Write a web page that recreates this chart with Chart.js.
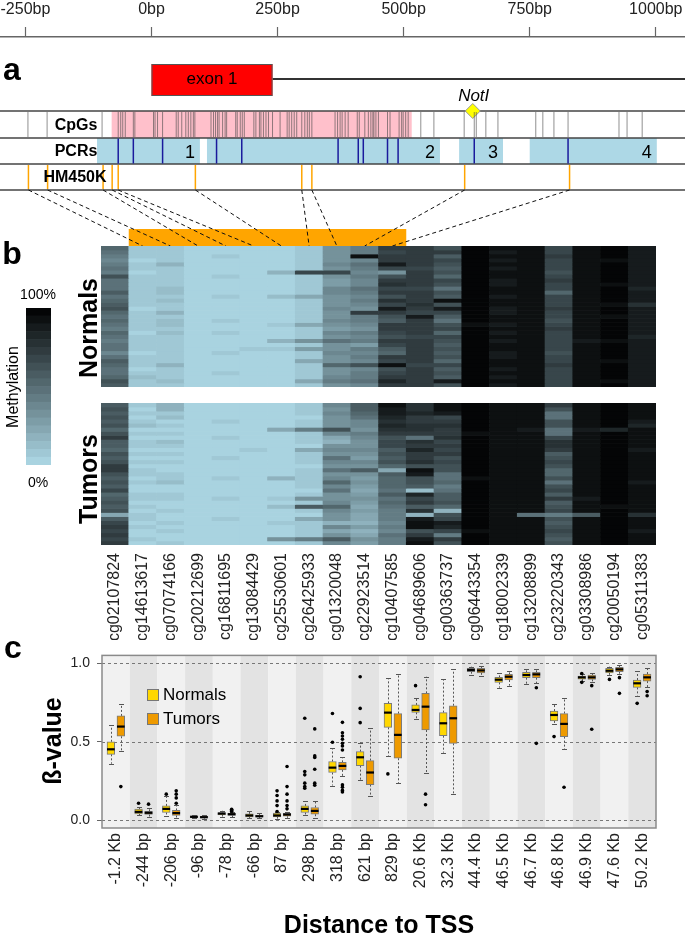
<!DOCTYPE html>
<html><head><meta charset="utf-8">
<script src="https://cdn.jsdelivr.net/npm/chart.js@4.4.1/dist/chart.umd.min.js"></script>
<style>
html,body{margin:0;padding:0;background:#fff}
body{position:relative;width:685px;height:934px;overflow:hidden;font-family:"Liberation Sans",Arial,Helvetica,sans-serif}
canvas{position:absolute;display:block}
.t{position:absolute;white-space:nowrap;line-height:1;color:#000}
.sw{position:absolute;width:10px;height:10px;border:1px solid #777}
</style></head>
<body>
<canvas id="cTop" width="685" height="246" style="left:0;top:0"></canvas>
<canvas id="cHeatN" width="555" height="141" style="left:101px;top:246px"></canvas>
<canvas id="cHeatT" width="555" height="237" style="left:101px;top:403px"></canvas>
<canvas id="cBar" width="25" height="157" style="left:26px;top:308px"></canvas>
<canvas id="cBox" width="685" height="294" style="left:0;top:640px"></canvas>
<script>
/* ================= DATA ================= */
// panel a – genomic track, positions in bp relative to the TSS
const bpTicks = [-250, 0, 250, 500, 750, 1000];
const exonRange = [0, 240];
const cpgIsland = [-79, 516];
const cpgSites = [-245,-207,-98,-66,-61,-57,-52,-36,-33,4,7,12,22,49,53,60,68,73,78,83,86,118,123,127,131,134,141,146,149,167,170,176,180,184,203,207,214,217,222,227,232,240,255,269,273,278,283,288,298,304,309,313,318,364,369,374,378,384,390,408,412,423,430,435,439,441,445,450,468,473,491,496,499,504,509,534,560,620,640,644,663,687,762,776,798,826,927,943,973];
const pcrAmplicons = [[-108, 96], [110, 572], [610, 697], [750, 1002]];
const pcrNames = ['1', '2', '3', '4'];
const pcrCpGs = [-66,-36,22,129,179,370,410,420,468,489,640,826];
const hm450kBp = [-244,-206,-96,-78,-66,87,298,318,621,829];
const hm450kIds = ['cg14613617','cg07074166','cg20212699','cg16811695','cg13084429','cg25530601','cg26425933','cg01320048','cg22923514','cg10407585'];
const notIBp = 637;

// panel b – probes and methylation (%) per sample row
const probeIds = ['cg02107824','cg14613617','cg07074166','cg20212699','cg16811695','cg13084429','cg25530601','cg26425933','cg01320048','cg22923514','cg10407585','cg04689606','cg00363737','cg06443354','cg18002339','cg13208899','cg23220343','cg03308986','cg20050194','cg05311383'];
const colorSteps = [0,5,10,15,20,25,30,35,40,45,50,55,60,65,70,75,80,85,90,95];

const nrm01 = [50,48,40,38,41,45,44,61,48,46,45,58,47,50,55,60,52,46,52,48,40,50,47,44,49,46,37,48,59,50,45,47,50,61,56];
const nrm02 = [6,5,7,4,5,6,4,5,7,6,5,8,6,5,7,4,6,5,5,7,6,4,5,8,6,5,4,7,6,5,4,6,11,5,5];
const nrm03 = [7,9,6,5,15,6,7,5,8,6,12,14,7,11,6,5,16,7,10,12,6,10,7,5,8,6,5,7,6,15,7,5,6,13,7];
const nrm04 = [2,2,2,3,2,2,2,2,3,2,2,2,2,2,2,3,2,2,2,2,2,2,2,2,2,2,2,2,2,2,3,2,2,2,2];
const nrm05 = [4,4,5,4,3,4,4,5,4,4,3,4,5,4,4,3,4,4,5,4,4,6,4,3,4,4,5,4,4,3,4,5,4,4,4];
const nrm06 = [3,3,2,3,3,4,3,2,3,3,3,4,3,2,3,3,3,2,4,3,3,3,2,3,3,6,3,3,2,3,3,4,3,3,3];
const nrm07 = [3,3,2,4,3,3,19,3,2,3,4,3,12,3,2,3,3,4,3,6,3,2,3,16,3,9,3,2,3,4,3,3,2,3,3];
const nrm08 = [7,6,8,5,9,7,65,6,8,5,7,9,24,6,8,7,5,9,7,20,6,8,5,31,7,29,6,9,21,5,7,8,6,20,7];
const nrm09 = [30,32,34,31,36,33,68,30,25,28,35,38,32,30,34,37,33,31,36,30,29,35,34,45,32,30,36,33,31,50,34,30,37,42,33];
const nrm10 = [40,42,92,38,49,44,36,40,35,38,45,41,37,43,39,34,71,40,42,36,30,44,38,41,26,40,35,43,39,62,37,42,40,45,38];
const nrm11 = [70,66,72,74,85,68,30,62,73,78,65,70,60,75,68,85,72,64,59,70,74,67,63,72,69,58,50,71,66,90,61,68,73,80,70];
const nrm12 = [72,70,71,73,70,69,72,74,70,71,68,72,70,73,75,71,69,86,70,72,74,71,69,70,73,72,70,71,74,68,70,72,71,70,73];
const nrm13 = [62,70,58,66,60,55,64,52,68,60,45,63,58,90,62,85,66,57,45,61,65,54,68,60,59,64,56,63,50,66,58,62,55,88,60];
const nrm14 = [96,95,96,97,96,95,96,96,97,95,96,96,95,96,97,96,95,96,96,94,96,97,95,96,96,95,96,97,96,95,96,96,95,96,96];
const nrm15 = [90,89,91,88,90,89,90,91,89,88,90,90,89,91,90,88,89,90,91,89,90,88,90,89,91,90,89,88,90,91,89,90,89,90,88];
const nrm16 = [93,92,94,93,92,93,91,94,93,92,93,94,92,93,91,93,92,94,93,92,93,92,94,93,92,91,93,92,93,94,92,93,92,93,93];
const nrm17 = [68,66,70,67,65,69,64,67,70,66,68,53,67,65,69,71,66,68,64,67,70,65,68,66,69,67,63,68,66,70,67,65,68,66,69];
const nrm18 = [91,92,90,91,93,91,90,92,91,90,91,92,91,90,91,92,91,90,91,91,92,90,91,88,91,92,90,91,91,94,90,91,92,91,90];
const nrm19 = [95,96,95,94,96,95,95,96,95,94,95,96,95,95,90,96,95,94,95,96,95,95,96,94,95,95,96,95,94,95,96,95,95,94,95];
const nrm20 = [87,88,86,89,85,87,88,86,89,87,84,88,87,89,75,86,88,85,87,89,86,88,84,87,88,86,85,89,87,88,86,87,85,88,87];

const tum01 = [58,62,55,60,57,63,52,60,70,56,59,54,61,58,64,72,70,60,55,62,57,68,53,59,62,56,60,21,58,68,72,65,70,66,73];
const tum02 = [5,4,6,4,5,10,4,5,4,6,5,4,5,3,5,4,6,5,4,5,3,4,6,5,4,5,4,5,6,4,5,4,3,5,4];
const tum03 = [19,17,5,11,4,6,3,5,4,14,5,3,6,4,5,3,4,6,5,10,4,3,5,6,4,3,5,4,3,6,4,5,3,4,5];
const tum04 = [2,2,2,2,2,2,2,2,2,2,2,3,2,2,2,2,2,2,2,2,2,2,2,2,2,2,2,2,2,2,2,2,2,2,2];
const tum05 = [4,3,4,4,6,4,3,4,7,4,3,4,4,5,4,3,4,4,6,4,3,4,4,7,4,3,4,4,5,4,3,4,4,4,4];
const tum06 = [2,3,2,3,2,2,3,2,2,3,2,5,2,3,2,2,3,2,2,3,2,2,3,2,2,3,2,2,2,3,2,2,3,2,2];
const tum07 = [3,4,3,4,3,4,21,3,4,3,4,3,4,3,4,3,4,3,17,4,3,4,3,9,4,12,3,4,3,7,4,3,4,34,3];
const tum08 = [6,5,7,4,8,6,41,5,7,6,4,22,6,5,8,4,6,7,5,6,8,4,6,33,5,58,7,4,24,6,5,7,6,40,5];
const tum09 = [35,34,36,33,32,34,62,35,21,19,33,36,34,45,35,33,49,34,35,54,36,47,34,33,35,52,36,34,33,18,35,22,34,56,35];
const tum10 = [55,58,50,45,38,35,32,40,36,33,30,38,34,28,36,31,59,30,26,34,29,22,27,31,25,20,28,24,22,18,26,15,23,30,27];
const tum11 = [93,88,85,80,78,82,75,70,60,65,68,58,62,55,60,52,24,56,54,50,52,48,55,45,50,47,42,40,44,39,42,38,45,40,43];
const tum12 = [78,76,80,74,72,79,75,73,45,78,70,80,74,72,76,62,90,86,60,64,58,10,80,66,70,58,78,17,88,90,91,62,74,89,90];
const tum13 = [92,90,85,68,72,75,70,73,78,66,72,65,70,64,68,62,60,48,45,50,44,46,55,58,62,52,17,60,66,85,80,65,40,70,62];
const tum14 = [96,95,96,95,96,96,95,94,96,95,96,95,96,96,95,96,95,96,94,96,95,96,95,96,96,95,96,95,96,95,96,94,96,95,96];
const tum15 = [91,92,90,93,91,92,91,90,92,91,93,91,92,90,91,92,91,93,92,91,90,92,91,92,91,90,93,91,92,91,92,90,91,92,91];
const tum16 = [93,92,94,93,92,93,85,94,93,92,93,94,92,93,91,93,92,94,93,92,93,92,94,93,92,91,93,49,93,94,92,93,92,93,93];
const tum17 = [70,64,48,46,62,60,45,47,66,75,76,72,58,62,65,60,52,50,63,45,60,66,58,70,56,61,68,40,64,57,62,66,60,59,64];
const tum18 = [91,92,90,91,93,91,86,92,91,90,91,92,91,90,91,92,91,90,91,91,92,90,91,89,91,92,90,58,91,94,90,91,92,91,90];
const tum19 = [96,97,96,95,97,96,81,97,96,95,96,97,96,96,95,97,96,95,96,97,96,96,97,95,96,91,97,96,95,96,97,96,96,95,96];
const tum20 = [91,92,90,93,89,82,91,90,92,93,91,89,92,90,91,93,90,92,91,89,92,90,91,93,90,91,92,79,90,92,91,89,93,90,91];

// panel c – beta-value box statistics per probe
const tssLabels = ['-1.2 Kb','-244 bp','-206 bp','-96 bp','-78 bp','-66 bp','87 bp','298 bp','318 bp','621 bp','829 bp','20.6 Kb','32.3 Kb','44.4 Kb','46.5 Kb','46.7 Kb','46.8 Kb','46.9 Kb','47.6 Kb','50.2 Kb'];
const betaTicks = [0, 0.5, 1];
const nQ1  = [.42,.04,.049,.017,.034,.021,.021,.049,.304,.348,.592,.688,.539,.947,.879,.909,.633,.90,.94,.847];
const nMed = [.452,.053,.072,.021,.042,.03,.03,.072,.335,.401,.686,.703,.618,.958,.896,.926,.671,.911,.953,.873];
const nQ3  = [.50,.07,.091,.028,.049,.04,.045,.091,.374,.437,.745,.735,.686,.968,.911,.943,.696,.919,.968,.894];
const nLo  = [.36,.03,.028,.012,.023,.012,.01,.03,.221,.257,.41,.643,.431,.928,.845,.868,.611,.885,.925,.794];
const nHi  = [.607,.087,.151,.032,.06,.06,.05,.121,.459,.495,.904,.777,.898,.979,.936,.962,.739,.93,.979,.951];
const nOut = [[],[.108],[.166],[],[],[],[.187,.157,.123,.093,.055],[.65,.31,.289,.236,.214,.204],[.68,.497],[.915,.713,.622],[.295],[.858],[],[],[],[],[.533],[.936,.879],[.898],[.745]];
const tQ1  = [.535,.036,.03,.015,.03,.02,.025,.038,.321,.227,.395,.575,.49,.94,.894,.909,.533,.898,.947,.887];
const tMed = [.597,.047,.045,.019,.038,.025,.036,.059,.346,.304,.544,.724,.65,.955,.915,.93,.614,.911,.962,.911];
const tQ3  = [.665,.057,.062,.024,.045,.031,.043,.081,.369,.38,.68,.809,.73,.968,.93,.943,.68,.926,.975,.932];
const tLo  = [.444,.023,.013,.01,.02,.012,.015,.013,.282,.151,.236,.304,.168,.92,.858,.872,.452,.88,.93,.847];
const tHi  = [.739,.076,.098,.03,.05,.045,.05,.121,.40,.586,.93,.915,.962,.985,.953,.962,.777,.94,.99,.972];
const tOut = [[.214],[.102],[.187,.166,.142,.108],[],[.07,.065,.06,.055],[],[.342,.214,.166,.123,.093,.072],[.582,.41,.40,.325,.236,.223],[.624,.558,.537,.516,.49,.473,.448,.225,.21,.19,.18],[],[],[.166,.098],[],[],[],[.845,.49],[.21],[.858,.58],[.909,.809],[.82,.794]];

/* ================= STYLE / SETUP ================= */
const FONT = '"Liberation Sans", Arial, Helvetica, sans-serif';
Chart.defaults.font.family = FONT;
Chart.defaults.color = '#222';
Chart.defaults.animation = false;
Chart.defaults.events = [];
Chart.defaults.responsive = false;
Chart.defaults.maintainAspectRatio = false;
Chart.defaults.plugins.legend.display = false;
Chart.defaults.plugins.tooltip.enabled = false;

const GOLD = '#ffd700', ORANGE = '#ee9a00';
const LIGHTBLUE = [173, 216, 230];
function methColor(pct) {
  const bin = Math.min(19, Math.max(0, Math.floor(pct / 5)));
  const t = (bin + 0.5) / 20;
  return 'rgb(' + LIGHTBLUE.map(c => Math.round(c * (1 - t))).join(',') + ')';
}
function addText(txt, cx, cy, o) {
  o = Object.assign({size: 14, weight: 'normal', style: 'normal', rot: 0, align: 'center', color: '#000'}, o || {});
  const d = document.createElement('div');
  d.className = 't'; d.textContent = txt;
  d.style.font = o.style + ' ' + o.weight + ' ' + o.size + 'px ' + FONT;
  d.style.color = o.color;
  d.style.left = cx + 'px'; d.style.top = cy + 'px';
  const tx = o.align === 'center' ? '-50%' : (o.align === 'right' ? '-100%' : '0');
  d.style.transform = 'translate(' + tx + ',-50%)' + (o.rot ? ' rotate(' + o.rot + 'deg)' : '');
  document.body.appendChild(d);
}
const noSidePad = s => { s.paddingLeft = 0; s.paddingRight = 0; };

/* ================= HEATMAPS ================= */
const nrmCols = [nrm01,nrm02,nrm03,nrm04,nrm05,nrm06,nrm07,nrm08,nrm09,nrm10,nrm11,nrm12,nrm13,nrm14,nrm15,nrm16,nrm17,nrm18,nrm19,nrm20];
const tumCols = [tum01,tum02,tum03,tum04,tum05,tum06,tum07,tum08,tum09,tum10,tum11,tum12,tum13,tum14,tum15,tum16,tum17,tum18,tum19,tum20];
function heatDatasets(cols) {
  const ds = [];
  for (let r = 0; r < cols[0].length; r++) {
    ds.push({
      label: 'sample ' + (r + 1),
      data: cols.map(() => 1),              // one unit cell per probe, coloured by its value
      backgroundColor: cols.map(col => methColor(col[r])),
      borderWidth: 0, categoryPercentage: 1, barPercentage: 1
    });
  }
  return ds;
}
function heatScales(showX, nRows) {
  const x = { stacked: true, display: showX, offset: true,
         grid: {display: false, drawTicks: false}, border: {display: false},
         ticks: {autoSkip: false, minRotation: 90, maxRotation: 90, padding: 8, font: {size: 16}, color: '#222'} };
  if (showX) x.afterFit = s => { s.height = 95; noSidePad(s); };
  return { x, y: { stacked: true, display: false, reverse: true, min: 0, max: nRows } };
}
const heatN = new Chart(document.getElementById('cHeatN'), {
  type: 'bar',
  data: {labels: probeIds, datasets: heatDatasets(nrmCols)},
  options: {layout: {padding: 0, autoPadding: false}, scales: heatScales(false, nrm01.length)}
});
const heatT = new Chart(document.getElementById('cHeatT'), {
  type: 'bar',
  data: {labels: probeIds, datasets: heatDatasets(tumCols)},
  options: {layout: {padding: 0, autoPadding: false}, scales: heatScales(true, tum01.length)}
});

/* colour key */
new Chart(document.getElementById('cBar'), {
  type: 'bar',
  data: {labels: [''], datasets: colorSteps.map(s => ({
    data: [[s, s + 5]], backgroundColor: methColor(s + 2.5), borderWidth: 0,
    categoryPercentage: 1, barPercentage: 1, grouped: false }))},
  options: {layout: {padding: 0, autoPadding: false}, scales: {x: {display: false}, y: {display: false, min: 0, max: 100}}}
});

/* ================= TOP TRACKS ================= */
// vertical layout of the tracks (px below the axis line)
const TRK = {exonTop: 27, exonMid: 42, exonBot: 59, notILabel: 59, cpgTop: 74, cpgMid: 87.5, pcrTop: 101, pcrMid: 114, hmTop: 127, hmMid: 140, hmBot: 153, barTop: 192, end: 209};
const topCanvas = document.getElementById('cTop');
const heatCanvas = document.getElementById('cHeatN');

const trackPlugin = {
  id: 'tracks',
  beforeDatasetsDraw(chart) {
    const {ctx, chartArea: ca, scales: {x, y}} = chart;
    ctx.save();
    const e0 = x.getPixelForValue(exonRange[0]), e1 = x.getPixelForValue(exonRange[1]);
    ctx.strokeStyle = '#333'; ctx.lineWidth = 2;
    ctx.beginPath(); ctx.moveTo(e1, y.getPixelForValue(TRK.exonMid)); ctx.lineTo(ca.right, y.getPixelForValue(TRK.exonMid)); ctx.stroke();
    const et = y.getPixelForValue(TRK.exonTop), eb = y.getPixelForValue(TRK.exonBot);
    ctx.fillStyle = '#ff0000'; ctx.fillRect(e0, et, e1 - e0, eb - et);
    ctx.strokeStyle = '#555'; ctx.lineWidth = 1; ctx.strokeRect(e0 + 0.5, et + 0.5, e1 - e0 - 1, eb - et - 1);
    const ct = y.getPixelForValue(TRK.cpgTop), pt = y.getPixelForValue(TRK.pcrTop);
    const ht = y.getPixelForValue(TRK.hmTop), hb = y.getPixelForValue(TRK.hmBot);
    ctx.fillStyle = '#ffc0cb';
    ctx.fillRect(x.getPixelForValue(cpgIsland[0]), ct, x.getPixelForValue(cpgIsland[1]) - x.getPixelForValue(cpgIsland[0]), pt - ct);
    ctx.fillStyle = '#add8e6';
    pcrAmplicons.forEach(a => {
      const a0 = x.getPixelForValue(a[0]), a1 = x.getPixelForValue(a[1]);
      ctx.fillRect(a0, pt, a1 - a0, ht - pt);
    });
    ctx.strokeStyle = '#444'; ctx.lineWidth = 1.5;
    [ct, pt, ht, hb].forEach(py => { ctx.beginPath(); ctx.moveTo(ca.left, py); ctx.lineTo(ca.right, py); ctx.stroke(); });
    const hx = heatN.scales.x, off = heatCanvas.offsetLeft - topCanvas.offsetLeft;
    const colW = hx.width / probeIds.length;
    const cols = hm450kIds.map(id => probeIds.indexOf(id));
    const bx0 = hx.getPixelForValue(Math.min(...cols)) + off - colW / 2;
    const bx1 = hx.getPixelForValue(Math.max(...cols)) + off + colW / 2;
    const bt = y.getPixelForValue(TRK.barTop), be = y.getPixelForValue(TRK.end);
    ctx.fillStyle = '#ffa500'; ctx.fillRect(bx0, bt, bx1 - bx0, be - bt);
    ctx.strokeStyle = '#111'; ctx.lineWidth = 1; ctx.setLineDash([4, 3]);
    hm450kBp.forEach((b, i) => {
      ctx.beginPath();
      ctx.moveTo(x.getPixelForValue(b), hb);
      ctx.lineTo(hx.getPixelForValue(cols[i]) + off, be);
      ctx.stroke();
    });
    ctx.restore();
  }
};

const topChart = new Chart(topCanvas, {
  type: 'scatter',
  data: {datasets: [
    {label: 'CpG sites', data: cpgSites.map(b => ({x: b, y: TRK.cpgMid})), pointStyle: 'line', pointRotation: 90, pointRadius: 12.5, pointBorderColor: 'rgba(70,70,70,0.6)', pointBorderWidth: 1},
    {label: 'PCR CpGs', data: pcrCpGs.map(b => ({x: b, y: TRK.pcrMid})), pointStyle: 'line', pointRotation: 90, pointRadius: 12.5, pointBorderColor: '#1a1a9c', pointBorderWidth: 1.5},
    {label: 'HM450K', data: hm450kBp.map(b => ({x: b, y: TRK.hmMid})), pointStyle: 'line', pointRotation: 90, pointRadius: 12, pointBorderColor: '#ffa500', pointBorderWidth: 1.5},
    {label: 'NotI', data: [{x: notIBp, y: TRK.cpgTop}], pointStyle: 'rectRot', pointRadius: 7.5, pointBackgroundColor: '#ffff00', pointBorderColor: '#999', pointBorderWidth: 1}
  ]},
  options: {
    clip: false,
    layout: {padding: 0, autoPadding: false},
    scales: {
      x: { type: 'linear', position: 'top', min: -300.4, max: 1057.9,
           afterBuildTicks: s => { s.ticks = bpTicks.map(v => ({value: v})); },
           ticks: {callback: v => v + 'bp', font: {size: 16}, color: '#222', padding: 8, maxRotation: 0, autoSkip: false},
           grid: {drawOnChartArea: false, tickLength: 10, tickColor: '#666', tickWidth: 1.2},
           border: {color: '#666', width: 1.5},
           afterFit: s => { s.height = 37; noSidePad(s); } },
      y: { type: 'linear', display: false, min: 0, max: 209, reverse: true }
    }
  },
  plugins: [trackPlugin]
});

/* ================= BOX PLOTS ================= */
const OFF = 0.18;   // centre offset of the two boxes inside a category (category units)
const boxPlugin = {
  id: 'boxdeco',
  beforeDatasetsDraw(chart) {
    const {ctx, chartArea: ca, scales: {x, y}} = chart;
    const n = x.getLabels().length, w = (ca.right - ca.left) / n;
    ctx.save();
    for (let i = 0; i < n; i++) {
      ctx.fillStyle = i % 2 ? '#e3e3e3' : '#f1f1f1';
      ctx.fillRect(x.getPixelForValue(i) - w / 2, ca.top, w, ca.bottom - ca.top);
    }
    ctx.strokeStyle = '#777'; ctx.lineWidth = 1; ctx.setLineDash([3, 3]);
    y.ticks.forEach(t => {
      const py = Math.round(y.getPixelForValue(t.value)) + 0.5;
      ctx.beginPath(); ctx.moveTo(ca.left, py); ctx.lineTo(ca.right, py); ctx.stroke();
    });
    const sets = [[0, nQ1, nQ3, nLo, nHi], [1, tQ1, tQ3, tLo, tHi]];
    sets.forEach(([d, q1, q3, lo, hi]) => {
      chart.getDatasetMeta(d).data.forEach((el, i) => {
        const px = Math.round(el.x) + 0.5;
        ctx.strokeStyle = '#555'; ctx.lineWidth = 1;
        ctx.setLineDash([2, 2]);
        ctx.beginPath();
        ctx.moveTo(px, y.getPixelForValue(q3[i])); ctx.lineTo(px, y.getPixelForValue(hi[i]));
        ctx.moveTo(px, y.getPixelForValue(q1[i])); ctx.lineTo(px, y.getPixelForValue(lo[i]));
        ctx.stroke();
        ctx.setLineDash([]);
        ctx.beginPath();
        [hi[i], lo[i]].forEach(v => { const py = Math.round(y.getPixelForValue(v)) + 0.5; ctx.moveTo(px - 2.5, py); ctx.lineTo(px + 2.5, py); });
        ctx.stroke();
      });
    });
    ctx.restore();
  },
  afterDatasetsDraw(chart) {
    const {ctx, chartArea: ca, scales: {y}} = chart;
    ctx.save();
    [[0, nMed], [1, tMed]].forEach(([d, med]) => {
      chart.getDatasetMeta(d).data.forEach((el, i) => {
        const py = y.getPixelForValue(med[i]);
        ctx.strokeStyle = '#000'; ctx.lineWidth = 2.2;
        ctx.beginPath(); ctx.moveTo(el.x - el.width / 2, py); ctx.lineTo(el.x + el.width / 2, py); ctx.stroke();
      });
    });
    ctx.strokeStyle = '#8a8a8a'; ctx.lineWidth = 1.5;
    ctx.strokeRect(ca.left, ca.top, ca.right - ca.left, ca.bottom - ca.top);
    ctx.restore();
  }
};

const boxChart = new Chart(document.getElementById('cBox'), {
  type: 'bar',
  data: {labels: tssLabels, datasets: [
    {label: 'Normals', xAxisID: 'xo', grouped: false, barThickness: 7.7, data: nQ1.map((q, i) => ({x: i - OFF, y: [q, nQ3[i]]})), backgroundColor: GOLD, borderColor: '#7a7a7a', borderWidth: 1, borderSkipped: false},
    {label: 'Tumors', xAxisID: 'xo', grouped: false, barThickness: 7.7, data: tQ1.map((q, i) => ({x: i + OFF, y: [q, tQ3[i]]})), backgroundColor: ORANGE, borderColor: '#7a7a7a', borderWidth: 1, borderSkipped: false},
    {type: 'scatter', label: 'Normals outliers', xAxisID: 'xo', yAxisID: 'y', data: nOut.flatMap((arr, i) => arr.map(v => ({x: i - OFF, y: v}))), pointRadius: 1.8, pointBackgroundColor: '#000', pointBorderWidth: 0},
    {type: 'scatter', label: 'Tumors outliers', xAxisID: 'xo', yAxisID: 'y', data: tOut.flatMap((arr, i) => arr.map(v => ({x: i + OFF, y: v}))), pointRadius: 1.8, pointBackgroundColor: '#000', pointBorderWidth: 0}
  ]},
  options: {
    layout: {padding: {top: 15, right: 29, left: 0, bottom: 0}, autoPadding: false},
    scales: {
      x: { type: 'category', offset: true, grid: {display: false, drawTicks: false}, border: {display: false},
           ticks: {autoSkip: false, minRotation: 90, maxRotation: 90, padding: 5, font: {size: 16}, color: '#222'},
           afterFit: s => { s.height = 106; noSidePad(s); } },
      xo: { type: 'linear', display: false, offset: false, grace: 0, bounds: 'ticks',
            min: -0.5, max: tssLabels.length - 0.5 },
      y: { min: -0.05, max: 1.051,
           afterBuildTicks: s => { s.ticks = betaTicks.map(v => ({value: v})); },
           ticks: {callback: v => v.toFixed(1), font: {size: 14}, color: '#222', padding: 7},
           grid: {drawOnChartArea: false, tickLength: 5, tickColor: '#666', tickWidth: 1},
           border: {display: false},
           afterFit: s => { s.width = 102; } }
    }
  },
  plugins: [boxPlugin]
});

/* ================= TEXT ================= */
const X = v => topChart.scales.x.getPixelForValue(v);
const Y = v => topChart.scales.y.getPixelForValue(v);
addText('exon 1', (X(exonRange[0]) + X(exonRange[1])) / 2, Y(TRK.exonMid), {size: 17});
addText('NotI', X(notIBp) + 1, Y(TRK.notILabel), {size: 17, style: 'italic'});
addText('CpGs', 76, Y(TRK.cpgMid), {size: 16, weight: 'bold'});
addText('PCRs', 76, Y(TRK.pcrMid), {size: 16, weight: 'bold'});
addText('HM450K', 75, Y(TRK.hmMid), {size: 16, weight: 'bold'});
pcrAmplicons.forEach((a, i) => addText(pcrNames[i], X(a[1]) - 5, Y(TRK.pcrMid) + 1, {size: 18, align: 'right'}));

addText('a', 12, 69, {size: 32, weight: 'bold'});
addText('b', 12, 253, {size: 32, weight: 'bold'});
addText('c', 13, 647, {size: 32, weight: 'bold'});
addText('Normals', 88, 328, {size: 25, weight: 'bold', rot: -90});
addText('Tumors', 88, 479, {size: 25, weight: 'bold', rot: -90});
addText('Methylation', 13, 387, {size: 16, rot: -90});
addText('100%', 38, 294, {size: 14});
addText('0%', 38, 482, {size: 14});
addText('ß-value', 52, 741, {size: 25, weight: 'bold', rot: -90});
addText('Distance to TSS', 379, 924, {size: 25, weight: 'bold'});

[['Normals', GOLD, 694.5], ['Tumors', ORANGE, 718.5]].forEach(([name, col, cy]) => {
  const s = document.createElement('div');
  s.className = 'sw'; s.style.background = col; s.style.left = '147px'; s.style.top = (cy - 6) + 'px';
  document.body.appendChild(s);
  addText(name, 163, cy, {size: 17, align: 'left'});
});
</script>
</body></html>
